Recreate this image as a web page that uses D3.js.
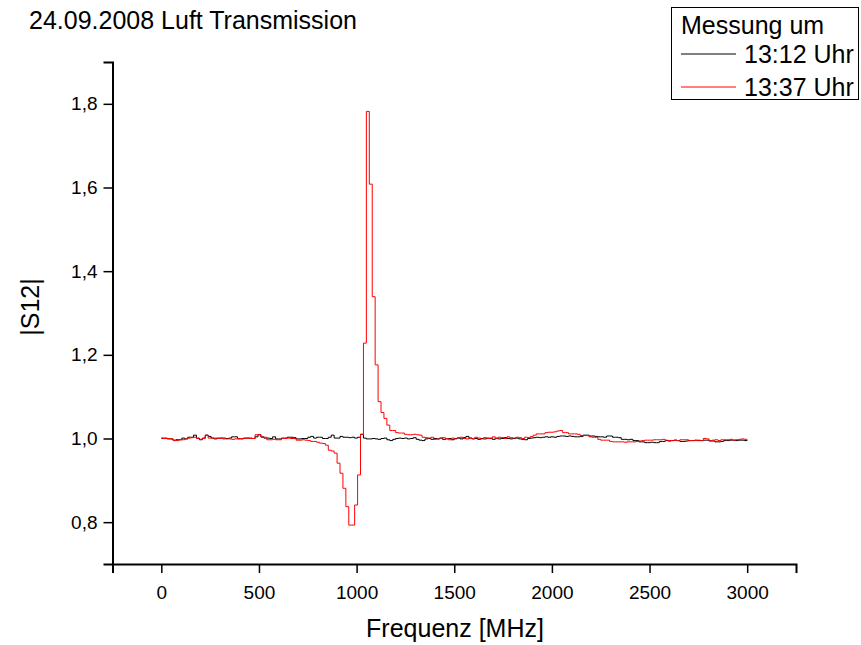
<!DOCTYPE html>
<html>
<head>
<meta charset="utf-8">
<script src="https://cdn.jsdelivr.net/npm/d3@7"></script>
<style>
  body { margin: 0; background: #fff; }
  text { font-family: "Liberation Sans", Arial, sans-serif; fill: #000; }
</style>
</head>
<body>
<div id="chart"></div>
<script>
// Daten: |S12| je Frequenzpunkt (0..3000 MHz, Schritt 15 MHz)
const fStart = 0, fStep = 15;

const seriesNames = ["13:12 Uhr", "13:37 Uhr"];
const seriesColors = ["#000000", "#ff0000"];

const s1312 = [
  1.001, 1.001, 0.999, 0.999, 0.996, 0.997, 0.997, 1.001, 0.999, 1.003,
  1.003, 1.008, 1.001, 0.997, 1.001, 1.008, 1.005, 1.001, 0.999, 1.001,
  1.001, 1.001, 1.000, 1.001, 1.004, 1.004, 0.999, 0.999, 1.001, 1.001,
  1.001, 1.000, 1.004, 1.009, 1.004, 1.001, 1.001, 1.000, 1.004, 0.999,
  0.999, 1.001, 1.001, 1.003, 1.003, 1.002, 0.999, 0.999, 1.000, 1.000,
  1.003, 1.005, 1.001, 1.003, 1.003, 1.000, 1.000, 1.003, 1.008, 1.001,
  1.001, 1.005, 1.003, 1.003, 1.002, 1.003, 1.001, 1.003, 1.010, 1.001,
  0.999, 0.999, 1.000, 0.999, 0.998, 1.000, 1.001, 0.997, 0.995, 0.998,
  1.000, 1.001, 1.000, 1.001, 0.999, 1.000, 1.002, 0.998, 0.996, 0.995,
  0.999, 1.000, 0.998, 1.000, 0.999, 1.001, 0.998, 0.999, 1.000, 0.997,
  1.000, 1.001, 0.999, 1.002, 1.005, 1.001, 0.999, 1.000, 0.998, 1.000,
  0.999, 1.001, 1.000, 0.998, 1.001, 0.999, 1.000, 1.002, 1.000, 0.999,
  1.000, 1.001, 0.999, 0.998, 0.997, 1.000, 1.001, 1.002, 1.003, 1.002,
  1.003, 1.004, 1.003, 1.004, 1.003, 1.005, 1.006, 1.006, 1.005, 1.006,
  1.005, 1.004, 1.004, 1.005, 1.008, 1.008, 1.006, 1.006, 1.005, 1.004,
  1.004, 1.003, 1.006, 1.006, 1.003, 1.003, 1.002, 0.998, 0.998, 0.997,
  0.998, 0.995, 0.995, 0.992, 0.992, 0.990, 0.990, 0.991, 0.990, 0.990,
  0.993, 0.993, 0.995, 0.994, 0.995, 0.996, 0.995, 0.993, 0.993, 0.994,
  0.995, 0.995, 0.996, 0.995, 0.995, 0.996, 0.996, 0.994, 0.994, 0.992,
  0.992, 0.993, 0.995, 0.995, 0.996, 0.996, 0.995, 0.996, 0.996, 0.995,
  0.996
];

const s1337 = [
  1.000, 1.000, 1.000, 0.999, 0.995, 0.995, 0.997, 0.997, 0.999, 1.001,
  1.002, 1.003, 1.000, 0.998, 1.000, 1.008, 1.001, 1.001, 1.001, 1.000,
  1.001, 0.999, 0.999, 0.999, 0.998, 0.999, 1.000, 1.000, 1.000, 1.001,
  1.000, 1.000, 1.009, 1.009, 1.003, 1.003, 0.997, 0.997, 0.998, 0.997,
  0.997, 1.000, 1.000, 1.001, 1.000, 1.000, 0.996, 0.996, 0.997, 0.996,
  0.995, 0.993, 0.993, 0.991, 0.989, 0.988, 0.984, 0.972, 0.970, 0.965,
  0.941, 0.917, 0.881, 0.837, 0.793, 0.793, 0.841, 0.913, 1.010, 1.228,
  1.782, 1.608, 1.339, 1.176, 1.088, 1.062, 1.048, 1.032, 1.019, 1.019,
  1.014, 1.013, 1.013, 1.010, 1.009, 1.009, 1.010, 1.009, 1.008, 1.003,
  1.002, 1.001, 1.003, 0.998, 0.999, 1.001, 1.002, 1.000, 0.997, 1.001,
  0.999, 1.002, 1.003, 1.000, 0.999, 1.001, 1.000, 1.003, 1.001, 0.999,
  1.002, 1.000, 1.001, 1.004, 1.000, 1.003, 1.002, 1.000, 1.004, 1.002,
  1.001, 1.003, 1.002, 1.000, 1.003, 1.002, 1.005, 1.008, 1.011, 1.011,
  1.011, 1.014, 1.015, 1.015, 1.016, 1.018, 1.019, 1.014, 1.014, 1.011,
  1.011, 1.011, 1.010, 1.007, 1.007, 1.007, 1.004, 1.003, 1.003, 0.998,
  0.996, 0.996, 0.996, 0.993, 0.992, 0.992, 0.992, 0.992, 0.991, 0.992,
  0.992, 0.992, 0.993, 0.994, 0.995, 0.996, 0.996, 0.996, 0.997, 0.997,
  0.997, 0.998, 0.996, 0.995, 0.995, 0.996, 0.995, 0.997, 0.997, 0.997,
  0.995, 0.995, 0.995, 0.996, 0.995, 1.000, 0.999, 0.995, 0.996, 0.997,
  0.995, 0.997, 0.997, 0.997, 0.998, 0.996, 0.997, 0.998, 0.999, 0.998,
  0.999
];

// Achsen-Ticks
const xMajor = [0, 500, 1000, 1500, 2000, 2500, 3000];
const xMinor = [-250, 250, 750, 1250, 1750, 2250, 2750, 3250];
const yMajor = [0.8, 1.0, 1.2, 1.4, 1.6, 1.8];
const yMinor = [0.7, 0.9, 1.1, 1.3, 1.5, 1.7, 1.9];

const width = 861, height = 645;
const plot = {left: 112.5, right: 796, top: 62, bottom: 564};

const svg = d3.select("#chart")
  .append("svg")
    .attr("width", width)
    .attr("height", height);

svg.append("rect")
  .attr("width", width)
  .attr("height", height)
  .attr("fill", "#fff");

const x = d3.scaleLinear().domain([-250, 3250]).range([plot.left, plot.right]);
const y = d3.scaleLinear().domain([0.7, 1.9]).range([plot.bottom, plot.top]);

const fmt = d => d3.format(".1f")(d).replace(".", ",");

// x-Achse
const gx = svg.append("g").attr("transform", "translate(0," + plot.bottom + ")");
gx.call(d3.axisBottom(x).tickValues(xMinor).tickSize(5).tickFormat(""));
gx.call(d3.axisBottom(x).tickValues(xMajor).tickSize(9).tickPadding(13).tickFormat(d3.format("d")));
gx.selectAll(".domain").attr("stroke-width", 2);
gx.selectAll(".tick line").attr("stroke-width", 1.5);
gx.selectAll(".tick text").attr("font-size", "19px").attr("font-family", "Liberation Sans, Arial, sans-serif");

// y-Achse
const gy = svg.append("g").attr("transform", "translate(" + plot.left + ",0)");
gy.call(d3.axisLeft(y).tickValues(yMinor).tickSize(6).tickFormat(""));
gy.call(d3.axisLeft(y).tickValues(yMajor).tickSize(9).tickPadding(6).tickFormat(fmt));
gy.selectAll(".domain").attr("stroke-width", 2);
gy.selectAll(".tick line").attr("stroke-width", 1.5);
gy.selectAll(".tick text").attr("font-size", "19px").attr("font-family", "Liberation Sans, Arial, sans-serif");

// Kurven als Stufen
const line = d3.line()
  .x((d, i) => x(fStart + i * fStep))
  .y(d => y(d))
  .curve(d3.curveStepAfter);

[s1312, s1337].forEach((s, k) => {
  svg.append("path")
    .datum(s)
    .attr("fill", "none")
    .attr("stroke", seriesColors[k])
    .attr("stroke-width", 1)
    .attr("d", line);
});

// Titel und Achsenbeschriftungen
svg.append("text")
  .attr("x", 29).attr("y", 29)
  .attr("font-size", "25px")
  .text("24.09.2008 Luft Transmission");

svg.append("text")
  .attr("transform", "translate(39,307) rotate(-90)")
  .attr("text-anchor", "middle")
  .attr("font-size", "25px")
  .text("|S12|");

svg.append("text")
  .attr("x", 455).attr("y", 637)
  .attr("text-anchor", "middle")
  .attr("font-size", "25px")
  .text("Frequenz [MHz]");

// Legende
const lg = svg.append("g");
lg.append("rect")
  .attr("x", 671.5).attr("y", 7.5)
  .attr("width", 187).attr("height", 92)
  .attr("fill", "#fff").attr("stroke", "#000").attr("stroke-width", 1);
lg.append("text")
  .attr("x", 681).attr("y", 34)
  .attr("font-size", "25px")
  .text("Messung um");
const rowsY = [54, 87];
seriesNames.forEach((n, k) => {
  lg.append("line")
    .attr("x1", 681).attr("x2", 736)
    .attr("y1", rowsY[k]).attr("y2", rowsY[k])
    .attr("stroke", seriesColors[k]).attr("stroke-width", 1);
  lg.append("text")
    .attr("x", 744).attr("y", rowsY[k] + 9)
    .attr("font-size", "25px")
    .text(n);
});
</script>
</body>
</html>
